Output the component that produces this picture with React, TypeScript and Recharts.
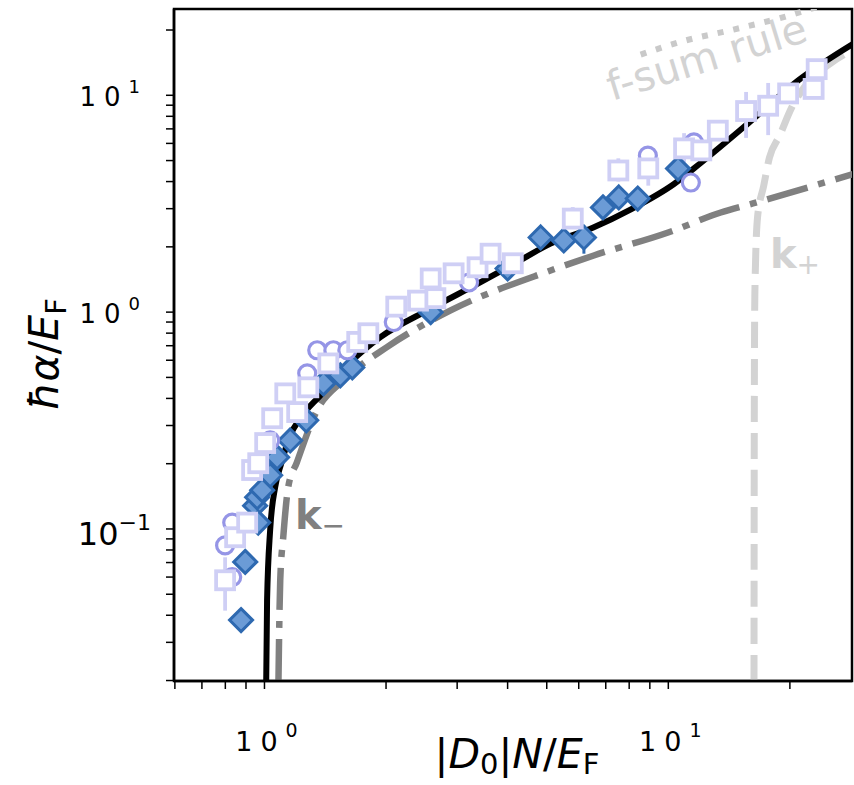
import React from 'react';
import { ComposedChart, Line, Scatter, XAxis, YAxis, ErrorBar, ReferenceArea } from 'recharts';

const FONT = '"DejaVu Sans", sans-serif';

// axis ranges (log-log) and tick positions
const xDomain = [0.597, 28.5];
const yDomain = [0.0199, 25];
const xTicks = [0.6, 0.7, 0.8, 0.9, 1, 2, 3, 4, 5, 6, 7, 8, 9, 10, 20];
const yTicks = [
  0.02, 0.03, 0.04, 0.05, 0.06, 0.07, 0.08, 0.09, 0.1,
  0.2, 0.3, 0.4, 0.5, 0.6, 0.7, 0.8, 0.9, 1,
  2, 3, 4, 5, 6, 7, 8, 9, 10, 20,
];
const tickExponent: Record<string, string> = { '0.1': '−1', '1': '0', '10': '1' };

// theory curves
const fullTheory = [
  { x: 1.01, y: 0.0199 }, { x: 1.015, y: 0.047 }, { x: 1.033, y: 0.099 },
  { x: 1.063, y: 0.156 }, { x: 1.1, y: 0.2 }, { x: 1.158, y: 0.27 },
  { x: 1.226, y: 0.324 }, { x: 1.375, y: 0.413 }, { x: 1.632, y: 0.588 },
  { x: 1.937, y: 0.767 }, { x: 2.576, y: 1.036 }, { x: 3.43, y: 1.375 },
  { x: 4.15, y: 1.67 }, { x: 5.11, y: 2.07 }, { x: 6.5, y: 2.45 },
  { x: 8.08, y: 2.98 }, { x: 10.33, y: 3.9 }, { x: 12.07, y: 4.9 },
  { x: 15.76, y: 7.42 }, { x: 20.9, y: 11.66 }, { x: 29.0, y: 17.5 },
];
const kMinus = [
  { x: 1.083, y: 0.0199 }, { x: 1.094, y: 0.058 }, { x: 1.113, y: 0.0916 },
  { x: 1.145, y: 0.156 }, { x: 1.203, y: 0.203 }, { x: 1.349, y: 0.352 },
  { x: 1.568, y: 0.485 }, { x: 2.01, y: 0.69 }, { x: 2.89, y: 1.018 },
  { x: 5.11, y: 1.556 }, { x: 6.54, y: 1.825 }, { x: 9.99, y: 2.33 },
  { x: 13.49, y: 2.88 }, { x: 16.2, y: 3.17 }, { x: 29.0, y: 4.36 },
];
const kPlus = [
  { x: 16.3, y: 0.0199 }, { x: 16.33, y: 0.392 }, { x: 16.38, y: 1.22 },
  { x: 16.63, y: 2.73 }, { x: 17.23, y: 3.83 }, { x: 17.8, y: 5.16 },
  { x: 18.86, y: 6.51 }, { x: 20.2, y: 8.77 }, { x: 22.1, y: 11.36 },
  { x: 25.3, y: 14.1 }, { x: 29.0, y: 16.4 },
];
const fSum = [
  { x: 8.54, y: 15.4 }, { x: 10.92, y: 17.8 }, { x: 14.5, y: 20.1 },
  { x: 19.4, y: 23.0 }, { x: 22.5, y: 25.0 }, { x: 29.0, y: 28.8 },
];

// measurements
const diamonds = [
  { x: 0.875, y: 0.038 }, { x: 0.896, y: 0.0705 }, { x: 0.948, y: 0.128 },
  { x: 0.959, y: 0.14 }, { x: 0.965, y: 0.107 }, { x: 0.987, y: 0.151 },
  { x: 1.033, y: 0.177 }, { x: 1.075, y: 0.214 }, { x: 1.158, y: 0.256 },
  { x: 1.269, y: 0.317 }, { x: 1.399, y: 0.469 }, { x: 1.541, y: 0.511 },
  { x: 1.65, y: 0.556 }, { x: 2.58, y: 1.0 }, { x: 4.0, y: 1.59 },
  { x: 4.83, y: 2.21 }, { x: 5.51, y: 2.14 }, { x: 6.18, y: 2.21, err: [0.35, 0.3] },
  { x: 6.89, y: 3.04 }, { x: 7.54, y: 3.38 }, { x: 8.4, y: 3.34 },
  { x: 10.57, y: 4.59 },
];
const circles = [
  { x: 0.799, y: 0.084 }, { x: 0.832, y: 0.107 }, { x: 0.832, y: 0.06 },
  { x: 1.033, y: 0.256 }, { x: 1.276, y: 0.522 }, { x: 1.351, y: 0.667 },
  { x: 1.481, y: 0.667 }, { x: 1.604, y: 0.667 }, { x: 2.09, y: 0.9 },
  { x: 3.21, y: 1.37 }, { x: 8.9, y: 5.27 }, { x: 11.37, y: 3.96 },
  { x: 11.57, y: 6.06 },
];
const squares = [
  { x: 0.799, y: 0.058, err: [0.016, 0.016] }, { x: 0.846, y: 0.0916 },
  { x: 0.906, y: 0.107 }, { x: 0.932, y: 0.187 }, { x: 0.965, y: 0.201 },
  { x: 1.004, y: 0.249 }, { x: 1.045, y: 0.324 }, { x: 1.126, y: 0.422 },
  { x: 1.205, y: 0.346 }, { x: 1.284, y: 0.45 }, { x: 1.439, y: 0.58 },
  { x: 1.697, y: 0.729 }, { x: 1.808, y: 0.799 }, { x: 2.12, y: 1.06 },
  { x: 2.4, y: 1.13 }, { x: 2.65, y: 1.16 }, { x: 2.58, y: 1.43 },
  { x: 2.94, y: 1.51 }, { x: 3.37, y: 1.61 }, { x: 3.63, y: 1.86 },
  { x: 4.12, y: 1.68 }, { x: 5.8, y: 2.7, err: [0.25, 0.35] },
  { x: 7.52, y: 4.5, err: [0.5, 0.62] }, { x: 8.92, y: 4.6, err: [0.77, 0.5] },
  { x: 10.94, y: 5.69, err: [0.8, 1.0] }, { x: 12.07, y: 5.57 },
  { x: 13.26, y: 6.87 }, { x: 15.58, y: 8.46, err: [2.1, 1.9] },
  { x: 17.67, y: 8.95, err: [2.4, 2.45] }, { x: 19.8, y: 10.2 },
  { x: 22.9, y: 10.7 }, { x: 23.3, y: 13.2 },
];

const withErr = (pts: any[]) => pts.map(p => ({ ...p, err: p.err ?? [0, 0] }));

const Diamond = ({ cx, cy }: any) => (
  <path d={`M${cx},${cy - 11.5}L${cx + 11.5},${cy}L${cx},${cy + 11.5}L${cx - 11.5},${cy}Z`}
    fill="#6b9bd6" stroke="#2e69b0" strokeWidth={3} strokeLinejoin="miter" />
);
const Ring = ({ cx, cy }: any) => (
  <circle cx={cx} cy={cy} r={8.5} fill="#fff" stroke="#9595e6" strokeWidth={3.2} />
);
const Box = ({ cx, cy }: any) => (
  <rect x={cx - 9} y={cy - 9} width={18} height={18} fill="#fff" stroke="#cfcff5" strokeWidth={3.8} />
);

function XTick({ x, payload }: any) {
  const exp = tickExponent[String(payload.value)];
  if (exp === undefined) return <g />;
  return (
    <text x={x + 2} y={751} textAnchor="middle" fontFamily={FONT} fill="#000">
      <tspan fontSize={27} letterSpacing={8}>10</tspan>
      <tspan fontSize={19} dy={-14}>{exp}</tspan>
    </text>
  );
}

function YTick({ y, payload }: any) {
  const exp = tickExponent[String(payload.value)];
  if (exp === undefined) return <g />;
  if (payload.value < 0.5) {
    return (
      <text x={151} y={y + 16} textAnchor="end" fontFamily={FONT} fill="#000">
        <tspan fontSize={32}>10</tspan>
        <tspan fontSize={22} dy={-15}>{exp}</tspan>
      </text>
    );
  }
  return (
    <text x={140} y={y + 11} textAnchor="end" fontFamily={FONT} fill="#000">
      <tspan fontSize={26} letterSpacing={8}>10</tspan>
      <tspan fontSize={18} dy={-13}>{exp}</tspan>
    </text>
  );
}

export default function App() {
  return (
    <div style={{ position: 'absolute', left: 0, top: 0, width: 854, height: 785, background: '#fff' }}>
      <ComposedChart width={854} height={785} margin={{ top: 9, right: 2, left: 0, bottom: 0 }}>
        <XAxis type="number" dataKey="x" scale="log" domain={xDomain} allowDataOverflow
          ticks={xTicks} interval={0} tickSize={8} height={104} tick={XTick}
          stroke="#000" axisLine={{ stroke: '#000', strokeWidth: 2.5 }} tickLine={{ stroke: '#000', strokeWidth: 1.5 }} />
        <YAxis type="number" dataKey="y" scale="log" domain={yDomain} allowDataOverflow
          ticks={yTicks} interval={0} tickSize={8} width={174} tick={YTick}
          stroke="#000" axisLine={{ stroke: '#000', strokeWidth: 2.5 }} tickLine={{ stroke: '#000', strokeWidth: 1.5 }} />

        {/* axes frame (top and right spines) */}
        <ReferenceArea x1={xDomain[0]} x2={xDomain[1]} y1={yDomain[0]} y2={yDomain[1]}
          fill="none" fillOpacity={0} stroke="#000" strokeWidth={2.5} ifOverflow="visible" />

        <Line data={fSum} dataKey="y" type="monotone" stroke="#c9c9c9" strokeWidth={6}
          strokeDasharray="6 10" dot={false} activeDot={false} isAnimationActive={false} />
        <Line data={kPlus} dataKey="y" type="monotone" stroke="#d3d3d3" strokeWidth={7}
          strokeDasharray="26 11" dot={false} activeDot={false} isAnimationActive={false} />
        <Line data={kMinus} dataKey="y" type="monotone" stroke="#808080" strokeWidth={6.5}
          strokeDasharray="42 11 7 11" dot={false} activeDot={false} isAnimationActive={false} />
        <Line data={fullTheory} dataKey="y" type="monotone" stroke="#000" strokeWidth={6}
          dot={false} activeDot={false} isAnimationActive={false} />

        <Scatter data={withErr(diamonds)} shape={Diamond} isAnimationActive={false}>
          <ErrorBar dataKey="err" direction="y" width={0} stroke="#2e69b0" strokeWidth={3} />
        </Scatter>
        <Scatter data={circles} shape={Ring} isAnimationActive={false} />
        <Scatter data={withErr(squares)} shape={Box} isAnimationActive={false}>
          <ErrorBar dataKey="err" direction="y" width={0} stroke="#cfcff5" strokeWidth={3.8} />
        </Scatter>
      </ComposedChart>

      <svg width={854} height={785} style={{ position: 'absolute', left: 0, top: 0, pointerEvents: 'none' }}
        fontFamily={FONT}>
        <text x={612} y={101} transform="rotate(-17 612 101)" fontSize={41} fill="#d3d3d3">f-sum rule</text>
        <text x={770} y={268} fontSize={40} fontWeight="bold" fill="#d3d3d3">
          k<tspan fontSize={28} fontWeight="normal" dy={6}>+</tspan>
        </text>
        <text x={295} y={529} fontSize={40} fontWeight="bold" fill="#808080">
          k<tspan fontSize={28} fontWeight="normal" dy={6}>−</tspan>
        </text>
        <text x={517} y={768} textAnchor="middle" fontSize={41} fill="#000">
          |<tspan fontStyle="italic">D</tspan>
          <tspan fontSize={29} dy={6}>0</tspan>
          <tspan dy={-6}>|</tspan>
          <tspan fontStyle="italic">N</tspan>/<tspan fontStyle="italic">E</tspan>
          <tspan fontSize={29} dy={6}>F</tspan>
        </text>
        <text transform="translate(58 354) rotate(-90)" textAnchor="middle" fontSize={41} fill="#000">
          <tspan fontStyle="italic">ħα</tspan>/<tspan fontStyle="italic">E</tspan>
          <tspan fontSize={29} dy={8}>F</tspan>
        </text>
      </svg>
    </div>
  );
}
